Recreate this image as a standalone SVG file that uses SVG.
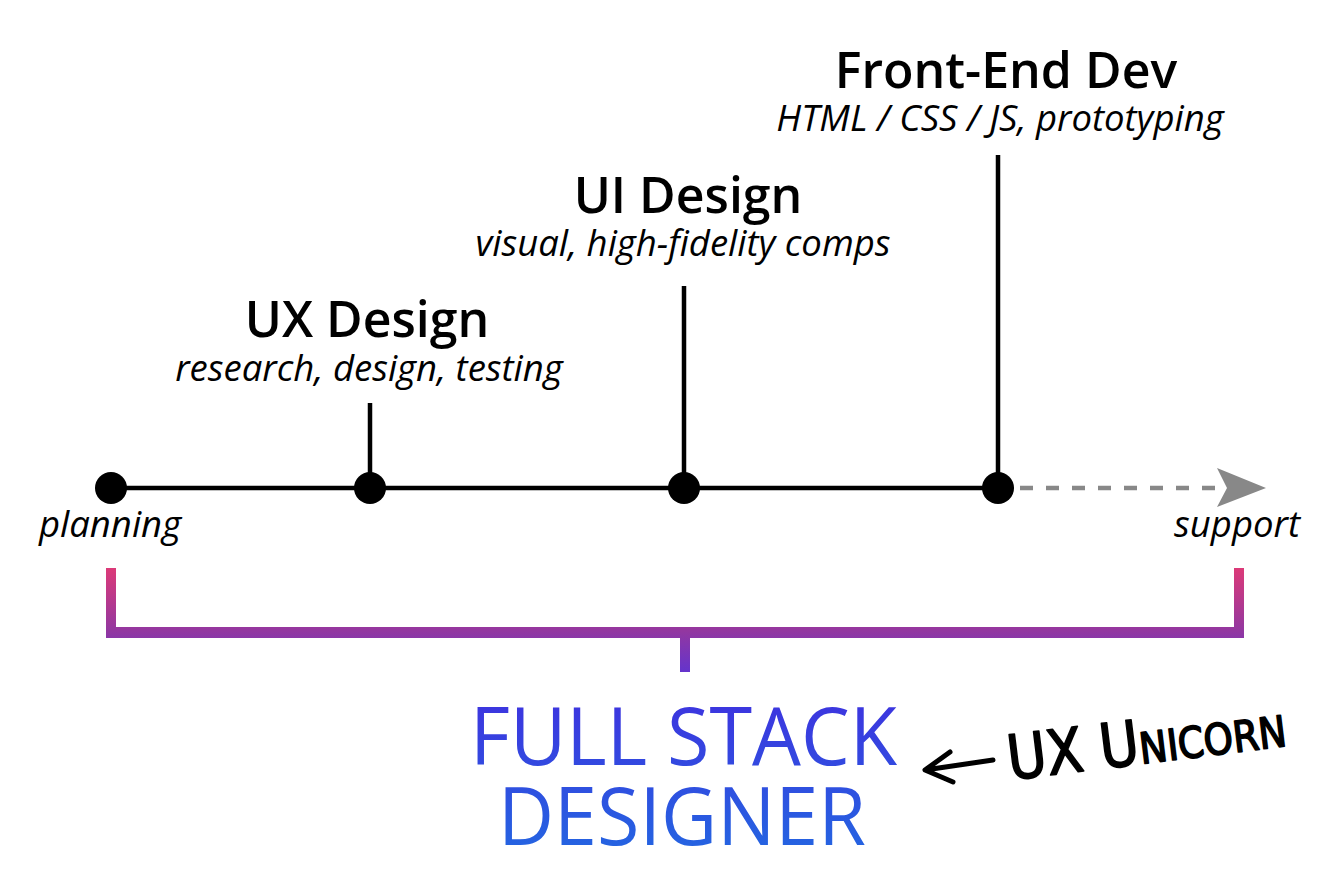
<svg xmlns="http://www.w3.org/2000/svg" width="1342" height="884" viewBox="0 0 1342 884">
<style>
.head{font-family:"Open Sans","Liberation Sans",sans-serif;font-weight:600;font-size:50px;fill:#000;text-anchor:middle}
.sub{font-family:"Open Sans","Liberation Sans",sans-serif;font-style:italic;font-size:36.5px;fill:#000;text-anchor:middle}
.stem{stroke:#000;stroke-width:4.5;fill:none}
.dot{fill:#000}
.big{font-family:"Open Sans","Liberation Sans",sans-serif;font-weight:400;font-size:80px;text-anchor:middle}
.hand{font-family:"DejaVu Sans Condensed","DejaVu Sans",sans-serif;font-weight:normal;font-variant:small-caps;font-size:62px;fill:#000;stroke:#000;stroke-width:1.6;stroke-linejoin:round}
</style>
<defs>
<linearGradient id="brk" gradientUnits="userSpaceOnUse" x1="0" y1="568" x2="0" y2="672">
<stop offset="0" stop-color="#dc3a78"/>
<stop offset="0.6" stop-color="#9337a0"/>
<stop offset="1" stop-color="#6434cc"/>
</linearGradient>
<linearGradient id="blue" gradientUnits="userSpaceOnUse" x1="0" y1="705" x2="0" y2="848">
<stop offset="0" stop-color="#3c36df"/>
<stop offset="1" stop-color="#2563e1"/>
</linearGradient>
</defs>
<g id="connectors">
<line class="stem" x1="111" y1="488" x2="998" y2="488"/>
<line class="stem" x1="370" y1="403" x2="370" y2="488"/>
<line class="stem" x1="684" y1="286" x2="684" y2="488"/>
<line class="stem" x1="998" y1="155" x2="998" y2="488"/>
<line x1="1020" y1="488" x2="1220" y2="488" stroke="#888" stroke-width="4.5" stroke-dasharray="13 13"/>
<polygon points="1217,468 1266,488 1217,507 1227,488" fill="#888"/>
</g>
<g id="planning">
<circle class="dot" cx="111" cy="488" r="16"/>
<text class="sub" x="110" y="537">planning</text>
</g>
<g id="ux-design">
<circle class="dot" cx="370" cy="488" r="16"/>
<text class="head" x="367" y="337">UX Design</text>
<text class="sub" x="369" y="381">research, design, testing</text>
</g>
<g id="ui-design">
<circle class="dot" cx="684" cy="488" r="16"/>
<text class="head" x="688" y="213">UI Design</text>
<text class="sub" x="683" y="256">visual, high-fidelity comps</text>
</g>
<g id="front-end-dev">
<circle class="dot" cx="998" cy="488" r="16"/>
<text class="head" x="1006" y="88">Front-End Dev</text>
<text class="sub" x="1000" y="131">HTML / CSS / JS, prototyping</text>
</g>
<g id="support">
<text class="sub" x="1237" y="537">support</text>
</g>
<g id="bracket">
<path d="M106,568 H116 V627 H1234 V568 H1244 V638 H690 V672 H680 V638 H106 Z" fill="url(#brk)"/>
</g>
<g id="full-stack-designer">
<text class="big" x="683.5" y="765" fill="url(#blue)" textLength="427" lengthAdjust="spacingAndGlyphs">FULL STACK</text>
<text class="big" x="682" y="845" fill="url(#blue)" textLength="368" lengthAdjust="spacingAndGlyphs">DESIGNER</text>
</g>
<g id="ux-unicorn">
<path d="M993,760 L925,770 M950,752 L925,770 L953,782" fill="none" stroke="#000" stroke-width="5" stroke-linecap="round" stroke-linejoin="round"/>
<text class="hand" transform="translate(1010,780) rotate(-7)" x="0" y="0" textLength="280" lengthAdjust="spacingAndGlyphs">UX Unicorn</text>
</g>
</svg>
